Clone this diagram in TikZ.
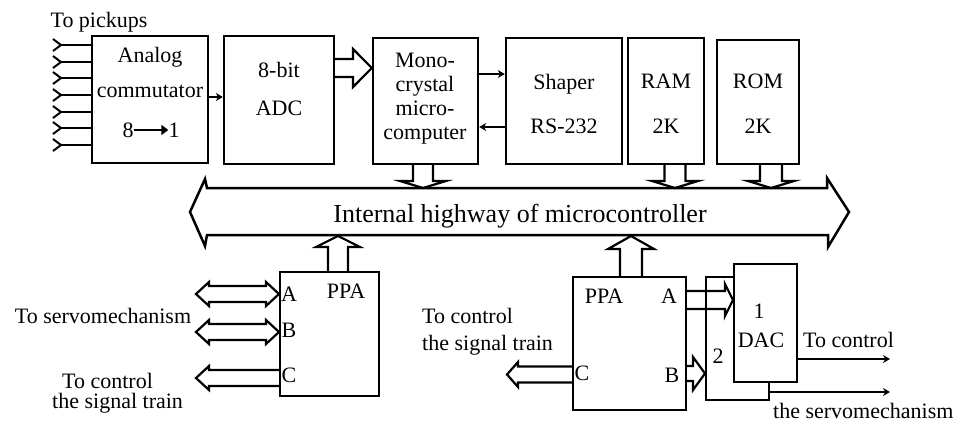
\documentclass[tikz,border=0pt]{standalone}
\usepackage{fontspec}
\setmainfont{Liberation Serif}
\usetikzlibrary{arrows.meta}
\begin{document}
\begin{tikzpicture}[x=1pt,y=-1pt,
  box/.style={draw,line width=2.4pt,inner sep=0pt},
  lowbox/.style={draw,line width=2pt,inner sep=0pt},
  lbl/.style={font=\fontsize{22}{26}\selectfont,inner sep=0pt,anchor=base},
  lbll/.style={font=\fontsize{22}{26}\selectfont,inner sep=0pt,anchor=base west},
  hollow/.style={draw,line width=2.2pt,line join=miter},
  conn/.style={line width=2pt,-{Stealth[length=7pt,width=8pt]}},
  pick/.style={line width=2pt},
]
\useasboundingbox (0,0) rectangle (958,421);

% upper boxes
\node[box,minimum width=116pt,minimum height=127pt] (comm) at (150,99.5) {};
\node[box,minimum width=110pt,minimum height=128pt] (adc) at (279,100) {};
\node[box,minimum width=105pt,minimum height=126pt] (micro) at (425.5,101) {};
\node[box,minimum width=116pt,minimum height=126pt] (shaper) at (564,101) {};
\node[box,minimum width=76pt,minimum height=126pt] (ram) at (666,101) {};
\node[box,minimum width=82pt,minimum height=124pt] (rom) at (758,102) {};

% upper labels
\node[lbl] (tpick) at (99,27) {To pickups};
\node[lbl] (tanalog) at (150,62) {Analog};
\node[lbl] (tcomm) at (150,97) {commutator};
\node[lbl] (teight) at (128,137) {8};
\node[lbl] (tone) at (174,137) {1};
\draw[line width=2.5pt,-{Triangle[length=7pt,width=10pt]}] (teight.east |- 0,130) -- (tone.west |- 0,130);
\node[lbl] (t8bit) at (279,77) {8-bit};
\node[lbl] (tadc) at (279,115) {ADC};
\node[lbl] (tmono) at (425,67) {Mono-};
\node[lbl] (tcrys) at (425,91) {crystal};
\node[lbl] (tmicro) at (425,115) {micro-};
\node[lbl] (tcomp) at (425,139) {computer};
\node[lbl] (tshaper) at (564,89) {Shaper};
\node[lbl] (trs) at (564,133) {RS-232};
\node[lbl] (tram) at (666,88) {RAM};
\node[lbl] (tram2) at (666,133) {2K};
\node[lbl] (trom) at (758,88) {ROM};
\node[lbl] (trom2) at (758,133) {2K};

% pickup inputs
\foreach \y in {45,62,78,95,112,128,145}{
  \draw[pick,line join=miter] (53,\y-6) -- (61,\y) -- (53,\y+6);
  \draw[pick] (61,\y) -- (comm.west |- 0,\y);
}

% thin connectors
\draw[conn] (comm.east |- 0,97) -- (adc.west |- 0,97);
\draw[conn] (micro.east |- 0,74) -- (shaper.west |- 0,74);
\draw[conn] (shaper.west |- 0,127) -- (micro.east |- 0,127);

% ADC -> micro hollow arrow
\draw[hollow] (adc.east |- 0,59) -- (353,59) -- (353,49) -- (micro.west |- 0,68) -- (353,87) -- (353,77) -- (adc.east |- 0,77);

% down arrows to bus
\draw[hollow] (413,164) -- (413,181) -- (400,181) -- (423,188) -- (446,181) -- (433,181) -- (433,164);
\draw[hollow] (664.5,164) -- (664.5,181) -- (652,181) -- (675,188) -- (698,181) -- (685.5,181) -- (685.5,164);
\draw[hollow] (760,164) -- (760,181) -- (748,181) -- (771,188) -- (794,181) -- (782,181) -- (782,164);

% bus
\draw[line width=2.5pt,line join=miter] (207,188) -- (827,188) -- (827,178) -- (849,212) -- (828,247) -- (828,235) -- (207,235) -- (205,246) -- (190,212) -- (205,179) -- cycle;
\node[font=\fontsize{26}{30}\selectfont,inner sep=0pt,anchor=base] (tbus) at (520,222) {Internal highway of microcontroller};

% lower left PPA
\node[lowbox,minimum width=99pt,minimum height=124pt] (ppal) at (329.5,334) {};
\node[lbl] (tppal) at (346,298) {PPA};
\node[lbl] (tal) at (289,301) {A};
\node[lbl] (tbl) at (289,337) {B};
\node[lbl] (tcl) at (289,382) {C};
\draw[hollow] (328,272) -- (328,247) -- (316,247) -- (338,236) -- (360,247) -- (348,247) -- (348,272);
\draw[hollow] (279,294) -- (266,282) -- (266,286) -- (209,286) -- (209,282) -- (196,294) -- (209,306) -- (209,302) -- (266,302) -- (266,306) -- cycle;
\draw[hollow] (279,332) -- (266,320) -- (266,324) -- (209,324) -- (209,320) -- (196,332) -- (209,344) -- (209,340) -- (266,340) -- (266,344) -- cycle;
\draw[hollow] (280,370) -- (209,370) -- (209,366) -- (196,378) -- (209,390) -- (209,386) -- (280,386);
\node[lbl] (tservo) at (103,323) {To servomechanism};
\node[lbll] (tctl1) at (62,388) {To control};
\node[lbll] (tsig1) at (52,408) {the signal train};

% lower right PPA
\node[lowbox,minimum width=113pt,minimum height=133pt] (ppar) at (629.5,343.5) {};
\node[lbl] (tppar) at (604,303) {PPA};
\node[lbl] (tar) at (669,303) {A};
\node[lbl] (tbr) at (672,382) {B};
\node[lbl] (tcr) at (582,380) {C};
\draw[hollow] (620,277) -- (620,249) -- (608,249) -- (631,236) -- (654,249) -- (642,249) -- (642,277);
\draw[hollow] (573,366.5) -- (518,366.5) -- (518,362) -- (507,374.5) -- (518,387) -- (518,382.5) -- (573,382.5);
\node[lbll] (tctl2) at (422,323) {To control};
\node[lbll] (tsig2) at (422,350) {the signal train};

% DAC section
\node[lowbox,minimum width=63pt,minimum height=123pt] (dac2) at (737.5,338.5) {};
\node[lowbox,fill=white,minimum width=63pt,minimum height=118pt] (dac1) at (765.5,323) {};
\node[lbl] (tone1) at (759,318) {1};
\node[lbl] (tdac) at (761,347) {DAC};
\node[lbl] (ttwo) at (718,363) {2};
\draw[hollow] (686,291) -- (725,291) -- (725,284) -- (dac1.west |- 0,300) -- (725,316) -- (725,309) -- (686,309);
\draw[hollow] (686,366) -- (693,366) -- (693,357) -- (dac2.west |- 0,373.5) -- (693,390) -- (693,381) -- (686,381);
\coordinate (out1) at (890,359);
\coordinate (out2) at (890,392);
\draw[conn] (dac1.east |- out1) -- (out1);
\draw[conn] (dac2.east |- out2) -- (out2);
\node[lbll] (tctl3) at (803,347) {To control};
\node[lbll] (tservo2) at (773,418) {the servomechanism};
\end{tikzpicture}
\end{document}
